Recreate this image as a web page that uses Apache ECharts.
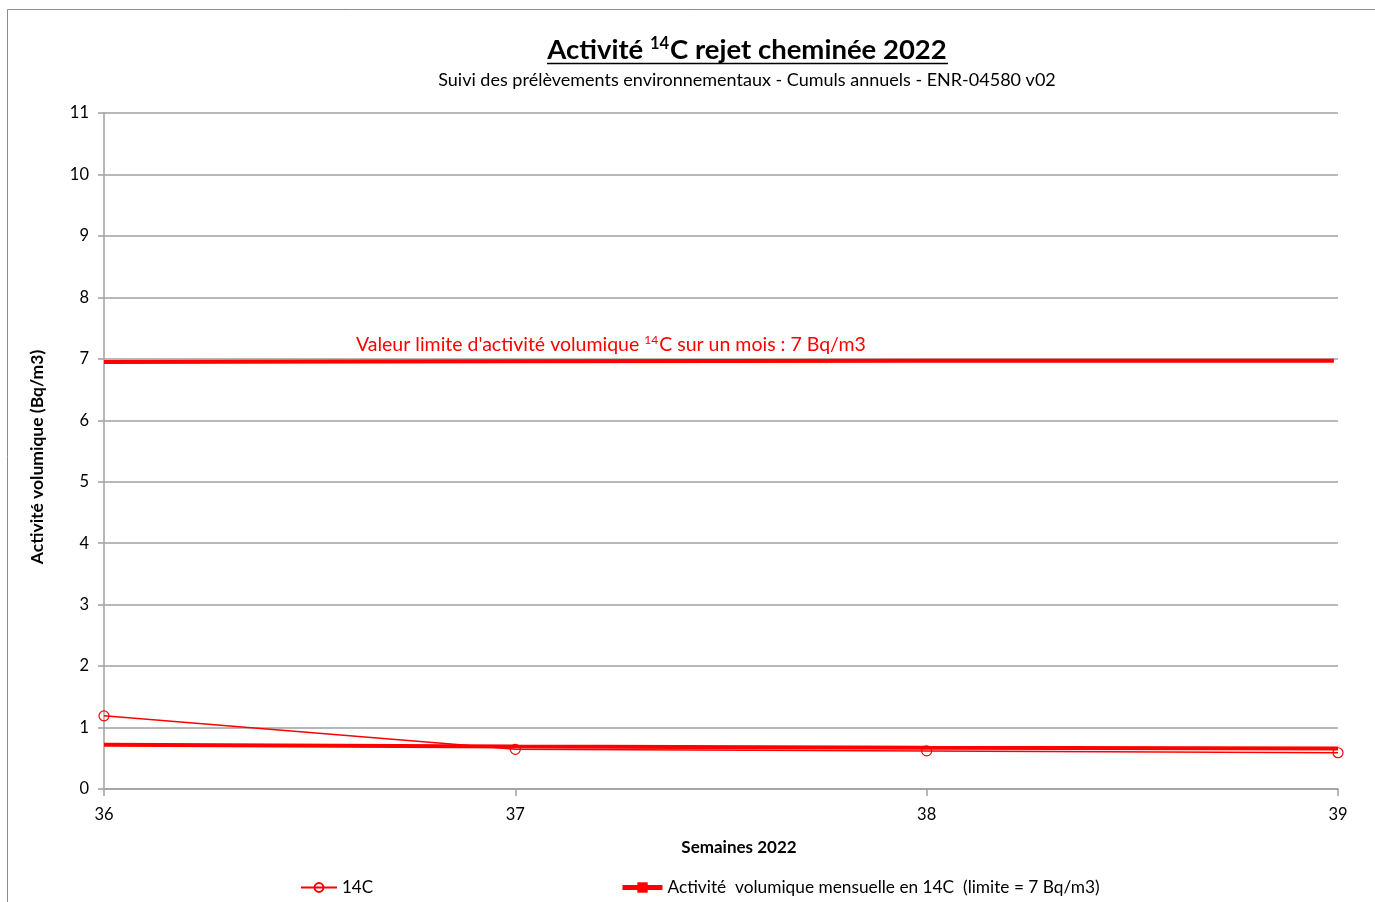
<!DOCTYPE html>
<html><head><meta charset="utf-8">
<script src="https://cdn.jsdelivr.net/npm/echarts@6/dist/echarts.min.js"></script>
<style>html,body{margin:0;padding:0;background:#fff}#c{width:1375px;height:902px}</style>
</head><body><div id="c"></div>
<script>
const weeks = [36, 37, 38, 39];
const c14 = [1.19, 0.645, 0.62, 0.59];
const monthly = [0.72, 0.69, 0.67, 0.66];
const limit = [6.95, 6.96, 6.97, 6.97];
const yTicks = [0, 1, 2, 3, 4, 5, 6, 7, 8, 9, 10, 11];
const seriesNames = ['14C', 'Activité  volumique mensuelle en 14C  (limite = 7 Bq/m3)'];

const F = 'Lato, "Open Sans", sans-serif';
const chart = echarts.init(document.getElementById('c'));
const pair = a => weeks.map((w, i) => [w, a[i]]);
chart.setOption({
  animation: false,
  textStyle: { fontFamily: F },
  graphic: [
    { type: 'rect', shape: { x: 7.5, y: 9.5, width: 1400, height: 920 }, style: { fill: 'none', stroke: '#8c8c8c', lineWidth: 1 }, silent: true },
    { type: 'text', x: 747, y: 50, style: {
        rich: {
          t: { fontSize: 27.5, fontWeight: 'bold', fontFamily: F, fill: '#000' },
          s: { fontSize: 16.5, fontWeight: 'bold', fontFamily: F, fill: '#000', verticalAlign: 'top', padding: [0, 1, 13, 0] }
        },
        text: '{t|Activité }{s|14}{t|C rejet cheminée 2022}',
        textAlign: 'center', textVerticalAlign: 'middle'
      } },
    { type: 'line', shape: { x1: 547, y1: 63.5, x2: 948, y2: 63.5 }, style: { stroke: '#000', lineWidth: 1.5 } },
    { type: 'text', x: 747, y: 80, style: { text: 'Suivi des prélèvements environnementaux - Cumuls annuels - ENR-04580 v02', font: '18px ' + F, fill: '#000', textAlign: 'center', textVerticalAlign: 'middle' } },
    { type: 'text', x: 356, y: 345, style: {
        rich: {
          r: { fontSize: 19.5, fontFamily: F, fill: '#ff0000' },
          s: { fontSize: 12, fontFamily: F, fill: '#ff0000', verticalAlign: 'top', padding: [0, 1, 9, 0] }
        },
        text: "{r|Valeur limite d'activité volumique }{s|14}{r|C sur un mois : 7 Bq/m3}",
        textVerticalAlign: 'middle'
      } },
    { type: 'text', x: 739, y: 848, style: { text: 'Semaines 2022', font: 'bold 17px ' + F, fill: '#000', textAlign: 'center', textVerticalAlign: 'middle' } }
  ],
  grid: { left: 104, right: 37, top: 113, bottom: 113 },
  xAxis: {
    type: 'value', min: 36, max: 39, interval: 1,
    axisLine: { lineStyle: { color: '#a0a0a0', width: 1.5 } },
    axisTick: { show: true, length: 7, lineStyle: { color: '#a0a0a0', width: 1.5 } },
    axisLabel: { color: '#000', fontSize: 16.5, margin: 17, fontFamily: F },
    splitLine: { show: false }
  },
  yAxis: {
    type: 'value', min: 0, max: 11, interval: 1,
    name: 'Activité volumique (Bq/m3)', nameLocation: 'middle', nameGap: 58,
    nameTextStyle: { fontSize: 17.5, fontWeight: 'bold', color: '#000', fontFamily: F, padding: [0, 12, 0, 0] },
    axisLine: { show: true, lineStyle: { color: '#a0a0a0', width: 1.5 } },
    axisTick: { show: true, length: 6, lineStyle: { color: '#a0a0a0', width: 1.5 } },
    axisLabel: { color: '#000', fontSize: 16.5, margin: 15, fontFamily: F,
      formatter: v => yTicks.includes(v) ? String(v) : '' },
    splitLine: { lineStyle: { color: '#a0a0a0', width: 1.5 } }
  },
  legend: [
    { left: 295, top: 874, itemWidth: 36, itemHeight: 11, data: [seriesNames[0]],
      textStyle: { fontSize: 17, color: '#000', fontFamily: F } },
    { left: 615, top: 874, itemWidth: 40, itemHeight: 13, data: [seriesNames[1]],
      lineStyle: { width: 5 },
      textStyle: { fontSize: 17.3, color: '#000', fontFamily: F } }
  ],
  series: [
    { name: seriesNames[1], type: 'line', data: pair(monthly), symbol: 'rect', showSymbol: false, symbolSize: 10,
      lineStyle: { color: '#ff0000', width: 4 }, itemStyle: { color: '#ff0000' }, z: 3 },
    { name: seriesNames[0], type: 'line', data: pair(c14), symbol: 'circle', symbolSize: 10,
      lineStyle: { color: '#ff0000', width: 1.5 }, itemStyle: { color: 'rgba(255,255,255,0)', borderColor: '#ff0000', borderWidth: 1.2 }, z: 4 },
    { name: 'limite', type: 'line', data: [[36, limit[0]], [37, limit[1]], [38, limit[2]], [38.99, limit[3]]], symbol: 'none',
      lineStyle: { color: '#ff0000', width: 4 }, z: 3 }
  ]
});
</script></body></html>
